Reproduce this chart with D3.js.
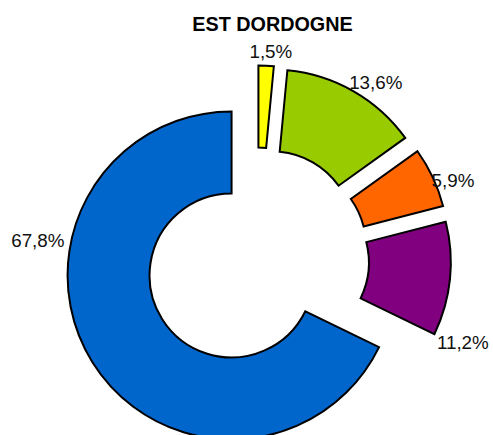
<!DOCTYPE html>
<html>
<head>
<meta charset="utf-8">
<script src="https://cdn.jsdelivr.net/npm/d3@7"></script>
<style>
  html, body { margin: 0; padding: 0; background: #fff; }
  svg { display: block; }
</style>
</head>
<body>
<div id="chart"></div>
<script>
// data
var title = 'EST DORDOGNE';
var categories = ['A', 'B', 'C', 'D', 'E'];
var values = [1.5, 13.6, 5.9, 11.2, 67.8];
var labels = ['1,5%', '13,6%', '5,9%', '11,2%', '67,8%'];
var colors = ['#FFFF00', '#99CC00', '#FF6600', '#800080', '#0066CC'];

var width = 493;
var height = 435;
var cx = 257;      // pie centre
var cy = 259.5;
var rOuter = 164;
var rInner = 82;
var explode = 30;  // every slice pulled out

// where Excel left each label (angle in degrees from top, distance from centre)
var labelLayout = [
  { a: 3.8, r: 209 },
  { a: 33.8, r: 213.5 },
  { a: 67.9, r: 211.5 },
  { a: 112, r: 222 },
  { a: 275, r: 220 }
];

var svg = d3.select('#chart').append('svg')
  .attr('width', width)
  .attr('height', height);

svg.append('text')
  .attr('x', 272.5)
  .attr('y', 30.5)
  .attr('text-anchor', 'middle')
  .style('font-family', '"Liberation Sans", Arial, sans-serif')
  .style('font-weight', 'bold')
  .style('font-size', '19.8px')
  .text(title);

var pie = d3.pie().sort(null).value(function(d) { return d; });
var arcs = pie(values);

var arc = d3.arc()
  .innerRadius(rInner)
  .outerRadius(rOuter);

var g = svg.append('g')
  .attr('transform', 'translate(' + cx + ',' + cy + ')');

g.selectAll('.slice')
  .data(arcs)
  .enter().append('path')
  .attr('class', 'slice')
  .attr('d', arc)
  .attr('transform', function(d) {
    var mid = (d.startAngle + d.endAngle) / 2;
    return 'translate(' + (explode * Math.sin(mid)) + ',' + (-explode * Math.cos(mid)) + ')';
  })
  .attr('fill', function(d, i) { return colors[i]; })
  .attr('stroke', '#000')
  .attr('stroke-width', 2)
  .attr('stroke-linejoin', 'miter');

g.selectAll('.lbl')
  .data(arcs)
  .enter().append('text')
  .attr('class', 'lbl')
  .attr('x', function(d, i) { return labelLayout[i].r * Math.sin(labelLayout[i].a * Math.PI / 180); })
  .attr('y', function(d, i) { return -labelLayout[i].r * Math.cos(labelLayout[i].a * Math.PI / 180) + 6.8; })
  .attr('text-anchor', 'middle')
  .style('font-family', '"Liberation Sans", Arial, sans-serif')
  .style('font-size', '18.8px')
  .style('fill', '#111')
  .text(function(d, i) { return labels[i]; });
</script>
</body>
</html>
